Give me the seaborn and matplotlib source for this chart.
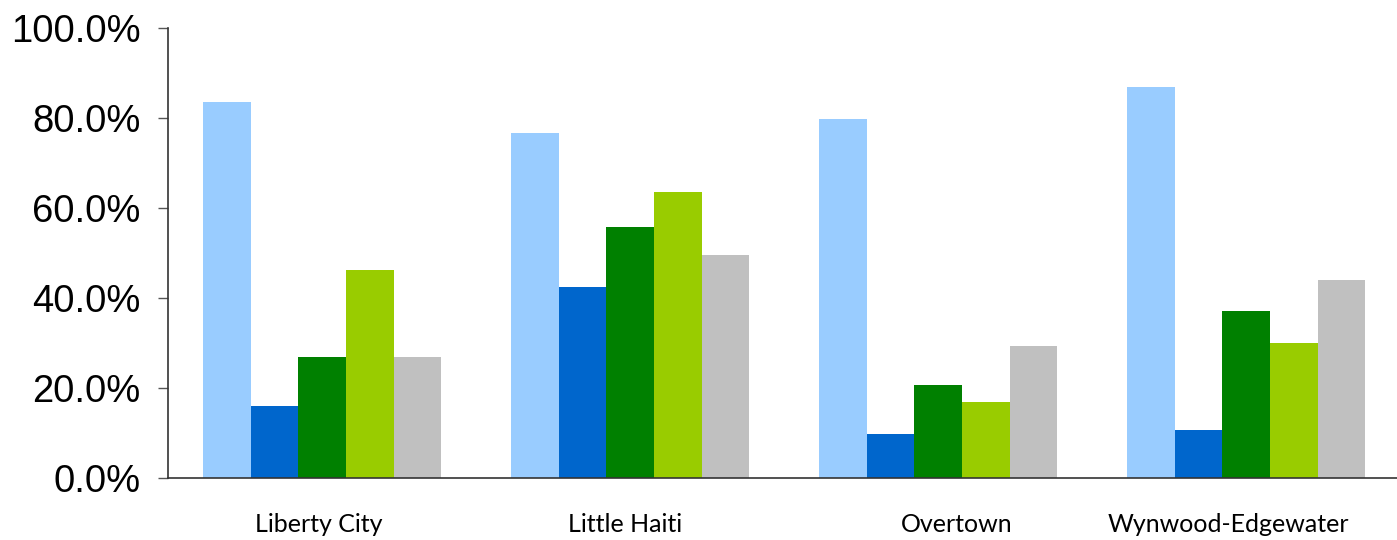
import matplotlib
matplotlib.use("Agg")
import matplotlib.pyplot as plt
import matplotlib.ticker as mticker
import matplotlib.transforms as mtransforms
import seaborn as sns
import pandas as pd

neighborhoods = ["Liberty City", "Little Haiti", "Overtown", "Wynwood-Edgewater"]
series_names = ["Series 1", "Series 2", "Series 3", "Series 4", "Series 5"]
series_1 = [83.6, 76.7, 79.8, 86.9]
series_2 = [16.0, 42.4, 9.8, 10.7]
series_3 = [26.9, 55.8, 20.7, 37.1]
series_4 = [46.2, 63.6, 16.9, 30.0]
series_5 = [26.9, 49.6, 29.3, 44.0]
colors = ["#99CCFF", "#0066CC", "#008000", "#99CC00", "#C0C0C0"]
y_ticks = [0, 20, 40, 60, 80, 100]

rows = []
for name, vals in zip(series_names, [series_1, series_2, series_3, series_4, series_5]):
    for cat, v in zip(neighborhoods, vals):
        rows.append({"Neighborhood": cat, "Series": name, "Value": v})
df = pd.DataFrame(rows)

sns.set_theme(style="white")
plt.rcParams["font.family"] = ["Liberation Sans", "DejaVu Sans"]

fig = plt.figure(figsize=(13.97, 5.40), dpi=100)
ax = fig.add_axes([0.1203, 0.1148, 0.8820, 0.8332])

sns.barplot(data=df, x="Neighborhood", y="Value", hue="Series",
            order=neighborhoods, hue_order=series_names,
            palette=colors, width=0.773, gap=0, saturation=1,
            linewidth=0, edgecolor="none", legend=False, ax=ax)

ax.set_xlim(-0.5, 3.5)
ax.set_ylim(0, 100)
ax.set_yticks(y_ticks)
ax.yaxis.set_major_formatter(mticker.FuncFormatter(lambda v, p: f"{v:.1f}%"))
ax.set_xlabel("")
ax.set_ylabel("")

for s in ["top", "right"]:
    ax.spines[s].set_visible(False)
ax.spines["left"].set_color("#333333")
ax.spines["bottom"].set_color("#333333")
ax.spines["left"].set_linewidth(1.2)
ax.spines["bottom"].set_linewidth(1.2)

ax.tick_params(axis="y", which="major", left=True, direction="out", length=7,
               width=1.0, color="#555555", labelsize=27.5, pad=13, labelcolor="black")
ax.tick_params(axis="x", which="major", bottom=False, length=0, pad=25)

label_shift_px = [-3, -5, 19, -18]
for lbl, dx in zip(ax.get_xticklabels(), label_shift_px):
    lbl.set_fontfamily(["Lato", "DejaVu Sans"])
    lbl.set_fontsize(18)
    lbl.set_color("black")
    lbl.set_transform(lbl.get_transform() +
                      mtransforms.ScaledTranslation(dx / 100, 0, fig.dpi_scale_trans))

fig.savefig("out.png", dpi=100)
